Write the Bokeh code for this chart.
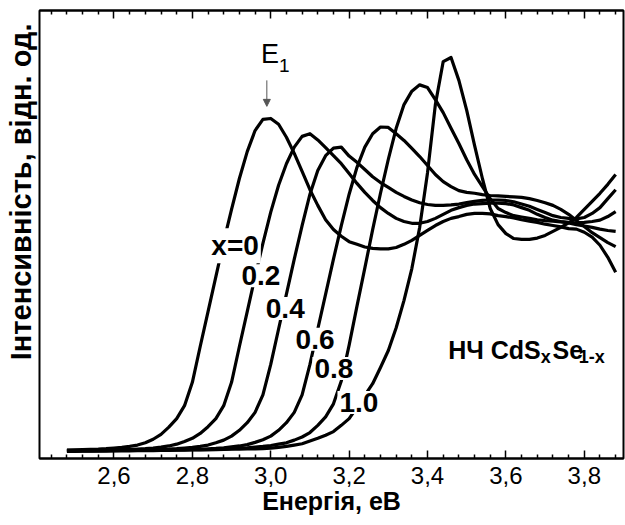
from bokeh.embed import file_html
from bokeh.models import (Arrow, CustomJSTickFormatter, FixedTicker, Label,
                          LinearAxis, NormalHead, Range1d, Title)
from bokeh.plotting import figure
from bokeh.resources import INLINE

# Photon energy grid, eV
energy_ev = [
    2.48, 2.50, 2.52, 2.54, 2.56, 2.58, 2.60, 2.62, 2.64, 2.66,
    2.68, 2.70, 2.72, 2.74, 2.76, 2.78, 2.80, 2.82, 2.84, 2.86,
    2.88, 2.90, 2.92, 2.94, 2.96, 2.98, 3.00, 3.02, 3.04, 3.06,
    3.08, 3.10, 3.12, 3.14, 3.16, 3.18, 3.20, 3.22, 3.24, 3.26,
    3.28, 3.30, 3.32, 3.34, 3.36, 3.38, 3.40, 3.42, 3.44, 3.46,
    3.48, 3.50, 3.52, 3.54, 3.56, 3.58, 3.60, 3.62, 3.64, 3.66,
    3.68, 3.70, 3.72, 3.74, 3.76, 3.78, 3.80, 3.82, 3.84, 3.86,
    3.88,
]

# Relative intensity of CdS(x)Se(1-x) nanocrystals for each composition x
int_x00 = [
    1.9, 1.95, 2.0, 2.05, 2.1, 2.2, 2.35, 2.5, 2.7, 3.0,
    3.5, 4.3, 5.4, 7.0, 8.9, 11.8, 17.0, 25.0, 32.8, 40.6,
    48.4, 55.6, 62.5, 68.5, 73.2, 75.7, 75.9, 74.6, 71.7, 68.1,
    64.1, 60.0, 56.5, 53.3, 51.1, 49.6, 48.4, 47.8, 47.2, 46.9,
    46.8, 46.8, 47.1, 47.8, 48.7, 49.8, 50.9, 52.0, 52.9, 53.6,
    54.0, 54.5, 54.7, 54.7, 54.6, 54.2, 54.0, 53.7, 53.3, 53.0,
    52.7, 52.3, 52.0, 51.7, 51.3, 51.2, 50.5, 49.4, 47.6, 44.9,
    41.6,
]
int_x02 = [
    1.8, 1.82, 1.84, 1.86, 1.88, 1.9, 1.93, 1.96, 2.0, 2.1,
    2.2, 2.35, 2.55, 2.8, 3.2, 3.8, 4.5, 5.6, 7.1, 8.9,
    11.8, 17.0, 25.0, 32.8, 40.6, 48.0, 55.0, 61.0, 65.8, 69.5,
    71.9, 72.5, 71.1, 69.4, 67.6, 65.8, 63.6, 61.4, 59.4, 57.6,
    56.0, 54.7, 53.6, 52.9, 52.5, 52.5, 52.9, 53.6, 54.5, 55.4,
    56.0, 56.5, 56.8, 56.9, 57.0, 57.0, 56.9, 56.6, 56.0, 55.4,
    54.5, 53.8, 53.2, 52.9, 52.7, 52.6, 52.7, 52.9, 53.2, 54.0,
    55.1,
]
int_x04 = [
    1.75, 1.77, 1.79, 1.81, 1.83, 1.85, 1.87, 1.89, 1.91, 1.94,
    1.97, 2.0, 2.05, 2.1, 2.2, 2.35, 2.5, 2.7, 3.0, 3.5,
    4.1, 5.0, 6.3, 8.0, 10.3, 14.2, 21.0, 28.9, 36.7, 44.5,
    52.0, 59.0, 64.3, 67.6, 69.3, 69.5, 67.5, 66.1, 64.5, 62.9,
    61.6, 60.5, 59.4, 58.5, 57.7, 57.1, 56.7, 56.5, 56.5, 56.6,
    56.8, 57.1, 57.4, 57.6, 57.7, 57.7, 57.6, 57.3, 56.8, 56.3,
    55.6, 54.9, 54.2, 53.8, 53.6, 53.5, 53.8, 54.7, 56.0, 58.0,
    60.0,
]
int_x06 = [
    1.70, 1.72, 1.74, 1.76, 1.78, 1.80, 1.82, 1.84, 1.86, 1.88,
    1.90, 1.92, 1.94, 1.96, 1.98, 2.0, 2.03, 2.07, 2.15, 2.25,
    2.4, 2.6, 2.8, 3.1, 3.6, 4.2, 5.0, 6.3, 8.0, 10.3,
    14.2, 21.0, 28.9, 36.7, 44.5, 52.0, 59.0, 65.0, 69.5, 72.5,
    74.0, 73.9, 72.5, 71.0, 69.2, 67.4, 65.4, 63.4, 61.8, 60.7,
    59.8, 59.4, 59.2, 58.9, 58.7, 58.6, 58.5, 58.4, 58.3, 58.0,
    57.6, 57.1, 56.5, 55.6, 54.5, 53.1, 51.8, 50.4, 49.3, 48.2,
    47.3,
]
int_x08 = [
    1.65, 1.67, 1.69, 1.71, 1.73, 1.75, 1.77, 1.79, 1.81, 1.83,
    1.85, 1.87, 1.89, 1.91, 1.93, 1.95, 1.96, 1.97, 2.0, 2.05,
    2.1, 2.2, 2.3, 2.4, 2.55, 2.7, 2.9, 3.2, 3.5, 4.1,
    4.8, 5.8, 7.4, 9.3, 12.2, 17.3, 25.3, 34.0, 42.5, 51.1,
    59.2, 66.8, 73.7, 79.0, 82.0, 83.4, 82.8, 80.1, 77.2, 73.7,
    70.3, 66.7, 63.4, 60.7, 58.0, 55.8, 54.9, 54.2, 53.9, 53.6,
    53.3, 53.1, 53.0, 52.8, 52.6, 52.2, 51.9, 51.6, 51.2, 50.9,
    50.7,
]
int_x10 = [
    1.6, 1.6, 1.62, 1.63, 1.65, 1.66, 1.68, 1.7, 1.72, 1.74,
    1.76, 1.78, 1.8, 1.82, 1.85, 1.88, 1.9, 1.93, 1.96, 2.0,
    2.03, 2.06, 2.1, 2.13, 2.16, 2.2, 2.3, 2.5, 2.7, 3.0,
    3.3, 3.9, 4.5, 5.2, 6.0, 7.4, 8.9, 11.4, 14.1, 16.7,
    20.3, 24.1, 29.2, 35.3, 42.4, 51.6, 63.8, 79.0, 88.6, 89.5,
    84.4, 77.7, 69.9, 62.5, 55.8, 52.2, 50.2, 49.1, 48.9, 48.9,
    49.2, 49.8, 50.7, 51.6, 52.6, 53.8, 55.6, 57.4, 59.2, 61.2,
    63.4,
]

series = [int_x00, int_x02, int_x04, int_x06, int_x08, int_x10]
comp_labels = ["x=0", "0.2", "0.4", "0.6", "0.8", "1.0"]

x_ticks = [2.6, 2.8, 3.0, 3.2, 3.4, 3.6, 3.8]
x_minor = [2.44, 2.48, 2.52, 2.56, 2.64, 2.68, 2.72, 2.76, 2.84, 2.88,
           2.92, 2.96, 3.04, 3.08, 3.12, 3.16, 3.24, 3.28, 3.32, 3.36,
           3.44, 3.48, 3.52, 3.56, 3.64, 3.68, 3.72, 3.76, 3.84, 3.88]

FONT = "Liberation Sans"

p = figure(width=625, height=525, output_backend="svg", toolbar_location=None,
           x_range=Range1d(2.41, 3.90), y_range=Range1d(0, 100),
           x_axis_location=None, y_axis_location=None,
           min_border_left=38, min_border_right=2,
           min_border_top=10, min_border_bottom=67)
p.grid.visible = False
p.outline_line_color = "black"
p.outline_line_width = 2
p.background_fill_color = "white"
p.border_fill_color = "white"

ticker = FixedTicker(ticks=x_ticks, minor_ticks=x_minor)

bottom = LinearAxis(
    ticker=ticker,
    formatter=CustomJSTickFormatter(code="return tick.toFixed(1).replace('.', ',');"),
    axis_label="Енергія, еВ",
)
bottom.axis_line_width = 2
bottom.major_tick_in = 8
bottom.major_tick_out = 0
bottom.minor_tick_in = 4
bottom.minor_tick_out = 0
bottom.major_tick_line_width = 1.5
bottom.minor_tick_line_width = 1.5
bottom.major_label_text_font = FONT
bottom.major_label_text_font_size = "24px"
bottom.major_label_text_color = "black"
bottom.major_label_standoff = 8
bottom.axis_label_text_font = FONT
bottom.axis_label_text_font_size = "25px"
bottom.axis_label_text_font_style = "bold"
bottom.axis_label_text_color = "black"
bottom.axis_label_standoff = 0
p.add_layout(bottom, "below")

# Top frame edge carries the same tick marks, without numbers
top = LinearAxis(ticker=ticker,
                 formatter=CustomJSTickFormatter(code="return '';"))
top.axis_line_width = 2
top.major_tick_in = 8
top.major_tick_out = 0
top.minor_tick_in = 4
top.minor_tick_out = 0
top.major_tick_line_width = 1.5
top.minor_tick_line_width = 1.5
top.major_label_text_font_size = "1px"
top.major_label_standoff = 0
p.add_layout(top, "above")

# Vertical axis title, pushed toward the top of the frame
p.add_layout(Title(text="Інтенсивність, відн. од.", align="right", offset=13,
                   text_font=FONT, text_font_size="29px", text_font_style="bold",
                   text_color="black", standoff=5), "left")

# Spectra
for vals in series:
    p.line(energy_ev, vals, line_color="black", line_width=3.2, line_join="round")

# Composition labels sitting on the rising edges
label_pos = [(2.909, 47.5), (2.975, 40.8), (3.037, 33.5),
             (3.113, 26.6), (3.161, 20.1), (3.225, 12.5)]
for (lx, ly), txt in zip(label_pos, comp_labels):
    p.add_layout(Label(x=lx, y=ly, text=txt, text_font=FONT, text_font_size="28px",
                       text_font_style="bold", text_color="black",
                       text_align="center", text_baseline="middle",
                       background_fill_color="white", padding=2))

# E1 marker
p.add_layout(Arrow(end=NormalHead(size=7, fill_color="#555555", line_color="#555555"),
                   x_start=2.99, y_start=84.4, x_end=2.99, y_end=78.6,
                   line_color="#555555", line_width=1))
p.add_layout(Label(x=2.975, y=90.2, text="E", text_font=FONT, text_font_size="27px",
                   text_color="black", text_align="left", text_baseline="alphabetic"))
p.add_layout(Label(x=3.021, y=87.7, text="1", text_font=FONT, text_font_size="19px",
                   text_color="black", text_align="left", text_baseline="alphabetic"))

# Sample title: НЧ CdS_x Se_1-x
title_parts = [(3.689, 24.3, "НЧ CdS", "25px", "right"),
               (3.689, 22.6, "x", "18px", "left"),
               (3.719, 24.3, "Se", "25px", "left"),
               (3.786, 22.6, "1-x", "18px", "left")]
for tx, ty, txt, size, align in title_parts:
    p.add_layout(Label(x=tx, y=ty, text=txt, text_font=FONT, text_font_size=size,
                       text_font_style="bold", text_color="black",
                       text_align=align, text_baseline="alphabetic"))

open("out.html", "w").write(file_html(p, INLINE))
